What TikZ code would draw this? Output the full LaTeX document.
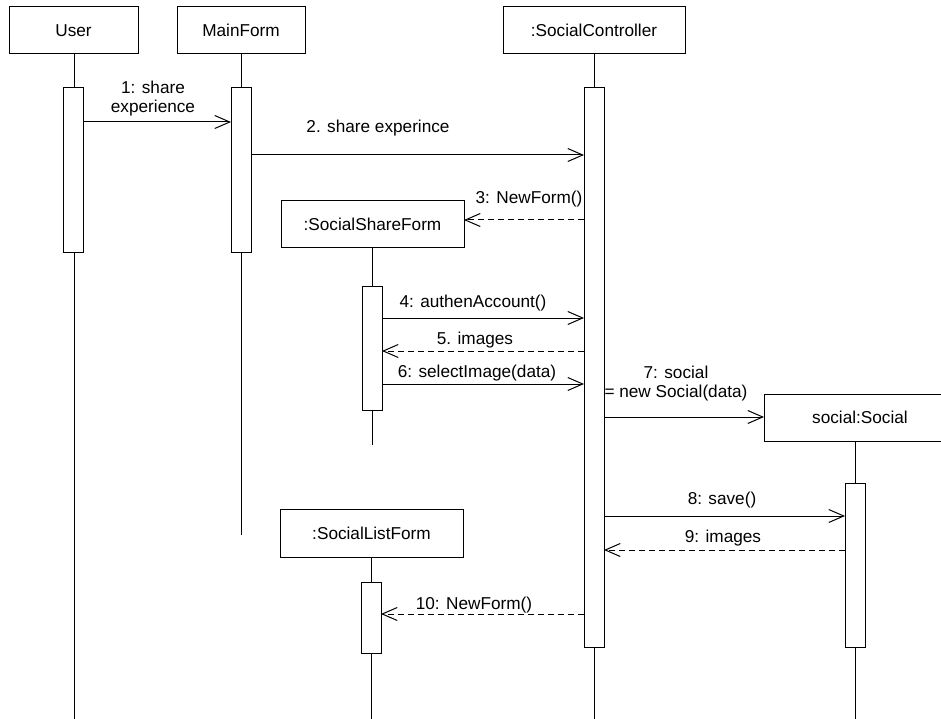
\documentclass[tikz,border=0pt]{standalone}
\usepackage{fontspec}
\setmainfont{Liberation Sans}
\usetikzlibrary{arrows.meta}
\tikzset{
  objbox/.style={draw, rectangle, line width=1pt, inner sep=0pt, outer sep=0pt, fill=white, font=\fontsize{17.2}{19}\selectfont},
  actbar/.style={draw, rectangle, line width=1pt, inner sep=0pt, outer sep=0pt, fill=white, minimum width=20pt},
  lifeline/.style={line width=1pt},
  msg/.style={line width=1pt, -{Straight Barb[length=15pt, width=13pt, line width=1pt]}},
  ret/.style={msg, dash pattern=on 6pt off 4pt},
  lbl/.style={font=\fontsize{17.2}{19}\selectfont, inner sep=0pt, align=center}
}
\begin{document}
\begin{tikzpicture}[x=1pt,y=-1pt]
\useasboundingbox (0,0) rectangle (941,719);
% object boxes
\node[objbox, minimum width=129pt, minimum height=47pt] (user) at (73.5,30.5) {User};
\node[objbox, minimum width=128pt, minimum height=47pt] (main) at (241,30.5) {MainForm};
\node[objbox, minimum width=182pt, minimum height=47pt] (ctrl) at (594,30.5) {:SocialController};
\node[objbox, minimum width=183pt, minimum height=46pt] (share) at (372.5,224) {:SocialShareForm};
\node[objbox, minimum width=183pt, minimum height=48pt] (list) at (371.5,533) {:SocialListForm};
\node[objbox, minimum width=192pt, minimum height=47pt] (social) at (860,417.5) {social:Social};
% lifeline ends
\coordinate (userend) at (74,719);
\coordinate (mainend) at (241,535);
\coordinate (ctrlend) at (594,719);
\coordinate (shareend) at (372,445);
\coordinate (listend) at (371,719);
\coordinate (socialend) at (855,719);
% lifelines
\draw[lifeline] (user.south -| userend) -- (userend);
\draw[lifeline] (main.south -| mainend) -- (mainend);
\draw[lifeline] (ctrl.south -| ctrlend) -- (ctrlend);
\draw[lifeline] (share.south -| shareend) -- (shareend);
\draw[lifeline] (list.south -| listend) -- (listend);
\draw[lifeline] (social.south -| socialend) -- (socialend);
% activation bars
\node[actbar, minimum height=164pt] (auser) at (73,170) {};
\node[actbar, minimum height=164pt] (amain) at (241,170) {};
\node[actbar, minimum height=559pt] (actrl) at (594,367.5) {};
\node[actbar, minimum height=124pt] (ashare) at (372,348) {};
\node[actbar, minimum height=71pt] (alist) at (371,617.5) {};
\node[actbar, minimum height=164pt] (asocial) at (855,565) {};
% messages
\draw[msg] (auser.east |- 0,122) -- (amain.west |- 0,122);
\draw[msg] (amain.east |- 0,155) -- (actrl.west |- 0,155);
\draw[ret] (actrl.west |- 0,220) -- (share.east |- 0,220);
\draw[msg] (ashare.east |- 0,318) -- (actrl.west |- 0,318);
\draw[ret] (actrl.west |- 0,351) -- (ashare.east |- 0,351);
\draw[msg] (ashare.east |- 0,384) -- (actrl.west |- 0,384);
\draw[msg] (actrl.east |- 0,417) -- (social.west |- 0,417);
\draw[msg] (actrl.east |- 0,516) -- (asocial.west |- 0,516);
\draw[ret] (asocial.west |- 0,550) -- (actrl.east |- 0,550);
\draw[ret] (actrl.west |- 0,614) -- (alist.east |- 0,614);
% labels
\node[lbl] (l1) at (153,99) {1: share\\experience};
\node[lbl] (l2) at (378,128) {2. share experince};
\node[lbl] (l3) at (529,199) {3: NewForm()};
\node[lbl] (l4) at (473,303) {4: authenAccount()};
\node[lbl] (l5) at (475,340) {5. images};
\node[lbl] (l6) at (477,373) {6: selectImage(data)};
\node[lbl] (l7) at (676,384) {7: social\\= new Social(data)};
\node[lbl] (l8) at (722,500) {8: save()};
\node[lbl] (l9) at (723,538) {9: images};
\node[lbl] (l10) at (474,605) {10: NewForm()};
\end{tikzpicture}
\end{document}
